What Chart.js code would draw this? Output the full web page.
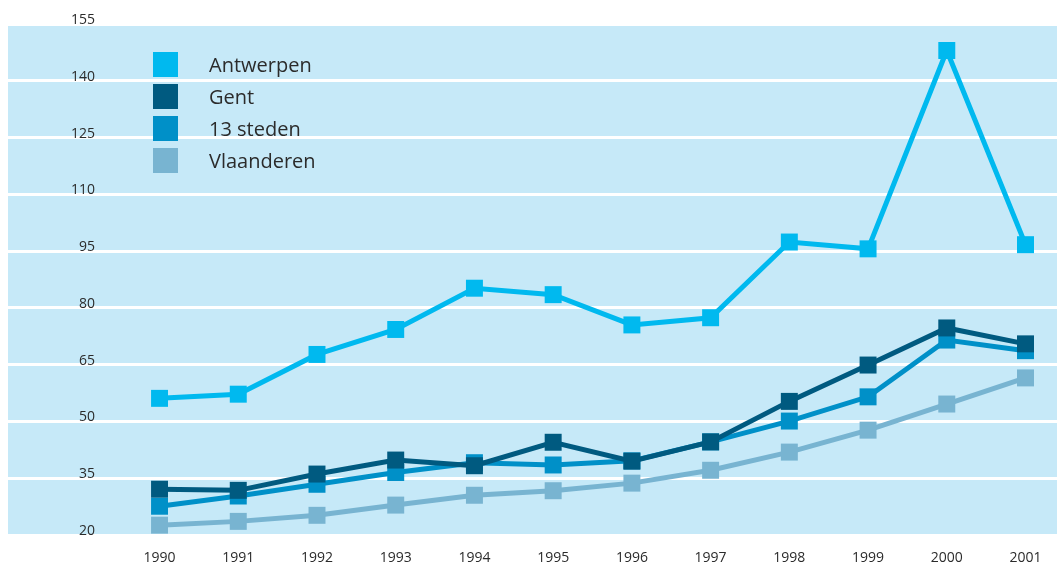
<!DOCTYPE html>
<html>
<head>
<meta charset="utf-8">
<script src="https://cdn.jsdelivr.net/npm/chart.js@4.4.1/dist/chart.umd.min.js"></script>
<style>
html, body { margin:0; padding:0; background:#fff; }
canvas { display:block; }
</style>
</head>
<body>
<canvas id="chart" width="1057" height="562"></canvas>
<script>
// data
const years = [1990,1991,1992,1993,1994,1995,1996,1997,1998,1999,2000,2001]
const yTicks = [20,35,50,65,80,95,110,125,140,155]

const antwerpen  = [56.1, 57.2, 67.7, 74.3, 85.2, 83.5, 75.5, 77.4, 97.4, 95.6, 148, 96.7]
const gent       = [32.1, 31.8, 36.1, 39.8, 38.3, 44.5, 39.5, 44.6, 55.3, 64.9, 74.7, 70.5]
const steden     = [27.6, 30.3, 33.4, 36.5, 39.1, 38.5, 39.6, 44.6, 50.1, 56.5, 71.5, 68.7]
const vlaanderen = [22.6, 23.6, 25.2, 27.9, 30.5, 31.7, 33.7, 37.1, 41.9, 47.7, 54.6, 61.5]

const FONT = '"Open Sans", "Noto Sans", sans-serif'
const TEXT = '#2b2b2b'

function makeSet(label, values, color){
    return {
        label: label,
        data: values.map((v,i) => ({x: years[i], y: v})),
        borderColor: color,
        backgroundColor: color,
        borderWidth: 5,
        pointStyle: 'rect',
        pointRadius: 12,
        pointHoverRadius: 12,
        pointBorderWidth: 0,
        pointBackgroundColor: color,
        tension: 0
    }
}

// achtergrond van het plotvlak
const plotBg = {
    id: 'plotBg',
    beforeDraw(chart){
        const a = chart.chartArea
        const ctx = chart.ctx
        ctx.save()
        ctx.fillStyle = '#c6e9f8'
        ctx.fillRect(a.left, a.top, a.right - a.left, a.bottom - a.top)
        ctx.restore()
    }
}

// legende linksboven in het plotvlak
const legendBox = {
    id: 'legendBox',
    afterDraw(chart){
        const ctx = chart.ctx
        ctx.save()
        ctx.font = '20px ' + FONT
        ctx.textBaseline = 'middle'
        chart.data.datasets.forEach((ds,i)=>{
            let y = 52 + i*32
            ctx.fillStyle = ds.borderColor
            ctx.fillRect(153, y, 25, 25)
            ctx.fillStyle = TEXT
            ctx.fillText(ds.label, 209, y + 14)
        })
        ctx.restore()
    }
}

new Chart(document.getElementById('chart'), {
    type: 'line',
    data: {
        datasets: [
            makeSet('Antwerpen', antwerpen, '#00b9ef'),
            makeSet('Gent', gent, '#005a80'),
            makeSet('13 steden', steden, '#0090c8'),
            makeSet('Vlaanderen', vlaanderen, '#78b4d1')
        ]
    },
    options: {
        responsive: false,
        animation: false,
        layout: { autoPadding: false, padding: { left: 8, right: 0, top: 24, bottom: 0 } },
        plugins: { legend: { display: false }, tooltip: { enabled: false } },
        scales: {
            x: {
                type: 'linear',
                min: 1988.075,
                max: 2001.4,
                afterBuildTicks: axis => { axis.ticks = years.map(v => ({value: v})) },
                afterFit: axis => { axis.height = 27; axis.paddingLeft = 0; axis.paddingRight = 0 },
                grid: { display: false, drawTicks: false },
                border: { display: false },
                ticks: {
                    color: TEXT,
                    font: { family: FONT, size: 14 },
                    padding: 15,
                    maxRotation: 0,
                    callback: v => String(v)
                }
            },
            y: {
                min: 20,
                max: 155,
                afterBuildTicks: axis => { axis.ticks = yTicks.map(v => ({value: v})) },
                // labels staan binnen het plotvlak, geen extra ruimte nodig
                afterFit: axis => { axis.width = 0; axis.paddingTop = 0; axis.paddingBottom = 0 },
                grid: { color: '#ffffff', lineWidth: 3, drawTicks: false },
                border: { display: false },
                ticks: {
                    mirror: true,
                    crossAlign: 'far',
                    padding: 63,
                    labelOffset: -4,
                    color: TEXT,
                    font: { family: FONT, size: 14 }
                }
            }
        }
    },
    plugins: [plotBg, legendBox]
})
</script>
</body>
</html>
